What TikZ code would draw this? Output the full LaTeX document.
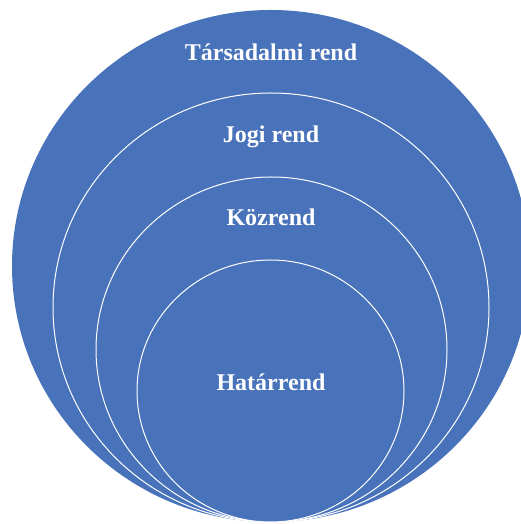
\documentclass[tikz,border=0pt]{standalone}
\usepackage{fontspec}
\setmainfont{Liberation Serif}
\usepackage{tikz}
\usetikzlibrary{positioning}

\definecolor{ringblue}{HTML}{4872BA}

\tikzset{
    ring/.style={fill=ringblue, draw=white, line width=1pt},
    ringlabel/.style={text=white, font=\fontsize{24}{28}\selectfont\bfseries, anchor=base, inner sep=0pt}
}

\begin{document}
\begin{tikzpicture}[x=1pt, y=1pt]
        \useasboundingbox (0,0) rectangle (520,524);
        \coordinate (C1) at (271,258);
        \coordinate (C2) at (271,216.5);
        \coordinate (C3) at (271.5,174.5);
        \coordinate (C4) at (270.5,133);
        % rings, from the outside in
        \fill[ringblue] (C1) ellipse [x radius=259, y radius=256];
        \draw[ring] (C2) ellipse [x radius=218, y radius=214.5];
        \draw[ring] (C3) ellipse [x radius=175.5, y radius=172.5];
        \draw[ring] (C4) ellipse [x radius=133.5, y radius=131];
        \node[ringlabel] (tarsadalmi) at (271,463) {Társadalmi rend};
        \node[ringlabel] (jogi) at (271,381) {Jogi rend};
        \node[ringlabel] (kozrend) at (271,298) {Közrend};
        \node[ringlabel] (hatarrend) at (271,133) {Határrend};
    \end{tikzpicture}
\end{document}
